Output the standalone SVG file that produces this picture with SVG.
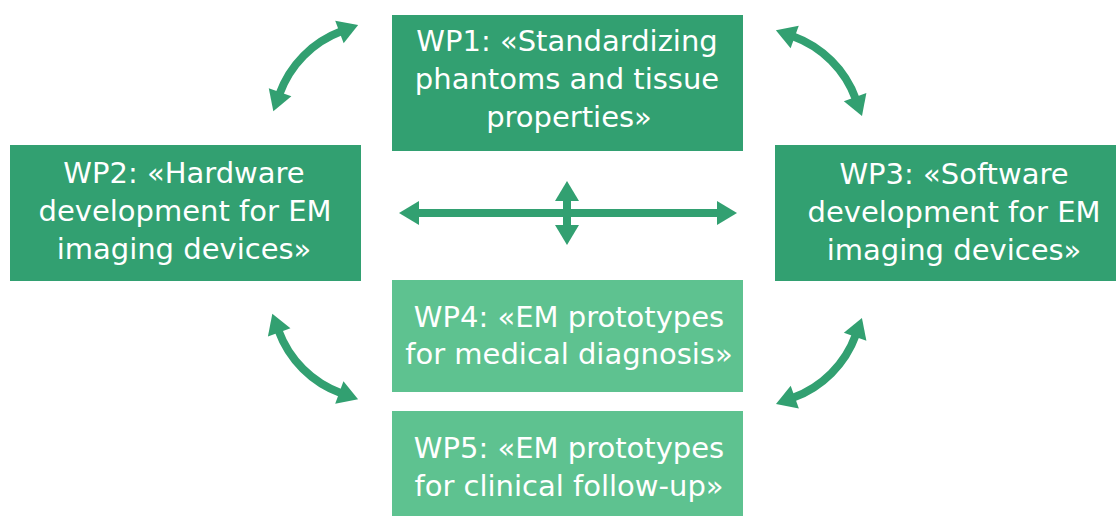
<svg xmlns="http://www.w3.org/2000/svg" width="1116" height="516" viewBox="0 0 1116 516">
<style>
.dark{fill:#32A071}
.light{fill:#5EC290}
.t{font-family:"DejaVu Sans",sans-serif;font-size:29px;fill:#ffffff;text-anchor:middle}
.c{fill:none;stroke:#32A071;stroke-width:8;marker-start:url(#ah);marker-end:url(#ah)}
</style>
<defs>
<marker id="ah" markerUnits="userSpaceOnUse" markerWidth="20" markerHeight="24" viewBox="0 0 20 24" refX="2" refY="12" orient="auto-start-reverse" overflow="visible">
<path d="M0,0 L20,12 L0,24 z" fill="#32A071"/>
</marker>
</defs>
<rect width="1116" height="516" fill="#ffffff"/>
<g id="connectors">
<path class="c" d="M279.4,94.2 A105,105 0 0 1 341.3,31.3"/>
<path class="c" d="M792.8,36.3 A105,105 0 0 1 855.8,99.1"/>
<path class="c" d="M278.5,330.6 A105,105 0 0 0 341.2,393.2"/>
<path class="c" d="M855.8,334.9 A105,105 0 0 1 792.9,397.8"/>
<path class="c" d="M417,213 L719,213"/>
<path class="c" d="M567,199 L567,227"/>
</g>
<g id="wp1">
<rect class="dark" x="392" y="15" width="351" height="136"/>
<text class="t" x="567" y="51">WP1: «Standardizing</text>
<text class="t" x="567" y="89">phantoms and tissue</text>
<text class="t" x="569" y="127">properties»</text>
</g>
<g id="wp2">
<rect class="dark" x="10" y="145" width="351" height="136"/>
<text class="t" x="184" y="183">WP2: «Hardware</text>
<text class="t" x="185" y="221">development for EM</text>
<text class="t" x="184" y="259">imaging devices»</text>
</g>
<g id="wp3">
<rect class="dark" x="775" y="145" width="341" height="136"/>
<text class="t" x="954" y="184">WP3: «Software</text>
<text class="t" x="954" y="222">development for EM</text>
<text class="t" x="954" y="260">imaging devices»</text>
</g>
<g id="wp4">
<rect class="light" x="392" y="280" width="351" height="112"/>
<text class="t" x="569" y="327">WP4: «EM prototypes</text>
<text class="t" x="569" y="364">for medical diagnosis»</text>
</g>
<g id="wp5">
<rect class="light" x="392" y="411" width="351" height="105"/>
<text class="t" x="569" y="458">WP5: «EM prototypes</text>
<text class="t" x="569" y="496">for clinical follow-up»</text>
</g>
</svg>
